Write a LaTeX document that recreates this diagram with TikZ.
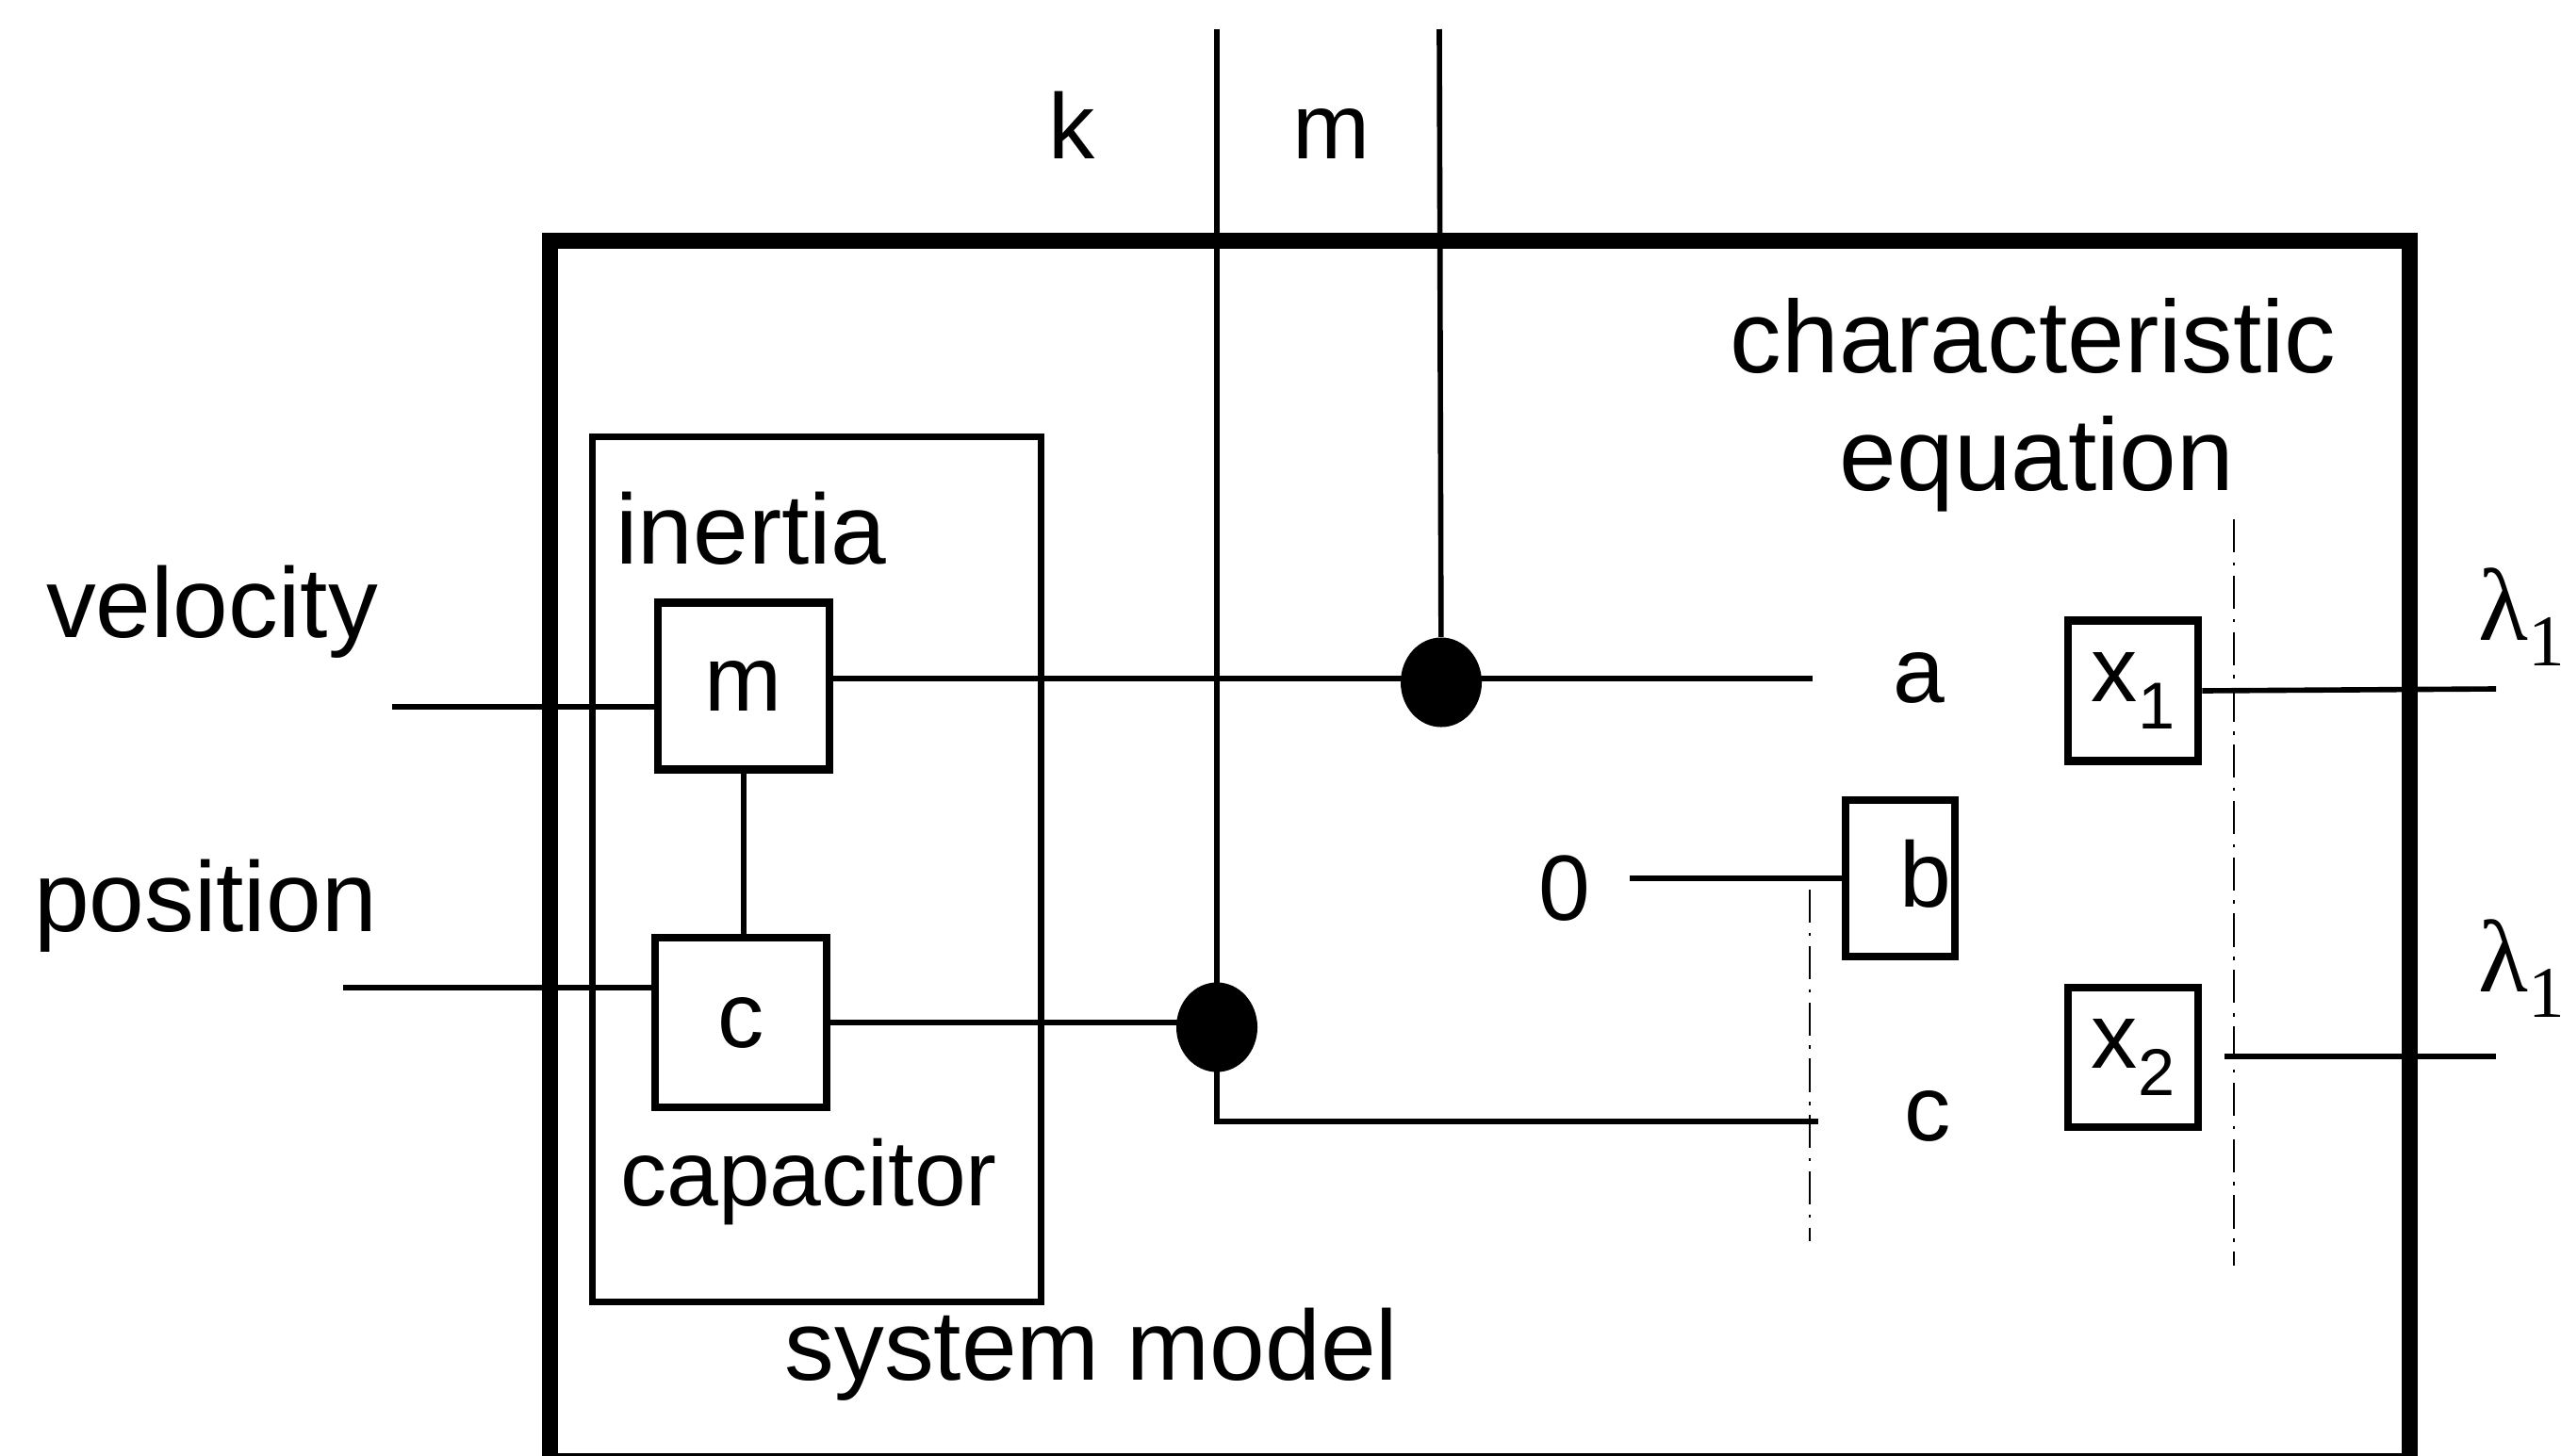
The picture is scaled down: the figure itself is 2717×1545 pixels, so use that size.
\documentclass[tikz,border=0pt]{standalone}
\usepackage{fontspec}
\setmainfont{Liberation Sans}
\newfontfamily\lamfont{Liberation Serif}
\usetikzlibrary{shapes.geometric}
\newcommand{\subone}{\raisebox{-0.3em}{\fontsize{20}{20}\selectfont 1}}
\newcommand{\subtwo}{\raisebox{-0.3em}{\fontsize{20}{20}\selectfont 2}}
\newcommand{\lamsub}{{\lamfont\fontsize{31}{36}\selectfont λ\raisebox{-0.25em}{\fontsize{22}{22}\selectfont 1}}}
\begin{document}
\begin{tikzpicture}[x=0.01cm,y=-0.01cm,
  lbl/.style={font=\fontsize{30}{36}\selectfont, inner sep=0pt, anchor=base},
  blk/.style={draw, line width=2.4pt, inner sep=0pt, font=\fontsize{28}{34}\selectfont},
  wire/.style={line width=1.6pt},
  dashdot/.style={line width=0.6pt, dash pattern=on 10pt off 3pt on 1pt off 3pt},
  dot/.style={ellipse, fill=black, inner sep=0pt, minimum width=0.86cm, minimum height=0.95cm}
]
\useasboundingbox (0,0) rectangle (2717,1545);

% outer and inner frames
\node[draw, line width=5pt, minimum width=19.72cm, minimum height=12.94cm, inner sep=0pt] (outer) at (1570,903) {};
\node[draw, line width=2pt, minimum width=4.75cm, minimum height=9.17cm, inner sep=0pt] (inner) at (866.5,922.5) {};

% blocks
\node[blk, minimum width=1.82cm, minimum height=1.77cm] (mbox) at (789,728) {m};
\node[blk, minimum width=1.82cm, minimum height=1.80cm] (cbox) at (786,1085) {c};
\node[blk, minimum width=1.16cm, minimum height=1.66cm] (bbox) at (2016,932) {};
\node[blk, minimum width=1.38cm, minimum height=1.49cm] (x1box) at (2263,733) {x\subone};
\node[blk, minimum width=1.38cm, minimum height=1.48cm] (x2box) at (2263,1122) {x\subtwo};

% labels
\node[lbl, font=\fontsize{28}{34}\selectfont] (klbl) at (1137,168) {k};
\node[lbl, font=\fontsize{28}{34}\selectfont] (mlbl) at (1412,168) {m};
\node[lbl, font=\fontsize{31}{37}\selectfont] (char1) at (2157,395) {characteristic};
\node[lbl, font=\fontsize{31}{37}\selectfont] (char2) at (2161,520) {equation};
\node[lbl] (inertia) at (797,598) {inertia};
\node[lbl] (vel) at (225,676) {velocity};
\node[lbl] (pos) at (218,988) {position};
\node[lbl, font=\fontsize{28}{34}\selectfont] (cap) at (858,1279) {capacitor};
\node[lbl] (sysm) at (1158,1464) {system model};
\node[lbl, font=\fontsize{28}{34}\selectfont] (alab) at (2036,745) {a};
\node[lbl, font=\fontsize{28}{34}\selectfont] (clab) at (2045,1210) {c};
\node[lbl, font=\fontsize{28}{34}\selectfont] (zero) at (1660,976) {0};
\node[lbl, font=\fontsize{28}{34}\selectfont] (blab) at (2043,962) {b};
\node[inner sep=0pt, anchor=base west] (lam1) at (2629,679) {\lamsub};
\node[inner sep=0pt, anchor=base west] (lam2) at (2629,1052) {\lamsub};

% coordinates
\coordinate (vin) at (416,750);
\coordinate (pin) at (364,1048);
\coordinate (ktop) at (1291,31);
\coordinate (mtop) at (1527,31);
\coordinate (aend) at (1923,720);
\coordinate (cend) at (1929,1190);
\coordinate (zstart) at (1729,932);
\coordinate (dda) at (1920,944);
\coordinate (ddb) at (1920,1317);
\coordinate (ddc) at (2370,551);
\coordinate (ddd) at (2370,1343);
\coordinate (l1end) at (2648,731);
\coordinate (x2start) at (2360,1121);
\coordinate (l2end) at (2648,1121);

% wires
\draw[wire] (vin) -- (vin -| mbox.west);
\draw[wire] (pin) -- (pin -| cbox.west);
\draw[wire] (mbox.south) -- (mbox.south |- cbox.north);
\draw[wire] (aend -| mbox.east) -- (aend);
\draw[wire] (ktop) |- (cend);
\draw[wire] (cbox.east) -- (1291,1085);
\draw[wire] (zstart) -- (bbox.west);
\draw[dashdot] (dda) -- (ddb);
\draw[dashdot] (ddc) -- (ddd);
\draw[wire] (x1box.east) -- (l1end);
\draw[wire] (x2start) -- (l2end);
\node[dot] (dk) at (1291,1090) {};
\node[dot] (dm) at (1529,724) {};
\draw[wire] (mtop) -- (dm);
\end{tikzpicture}
\end{document}
